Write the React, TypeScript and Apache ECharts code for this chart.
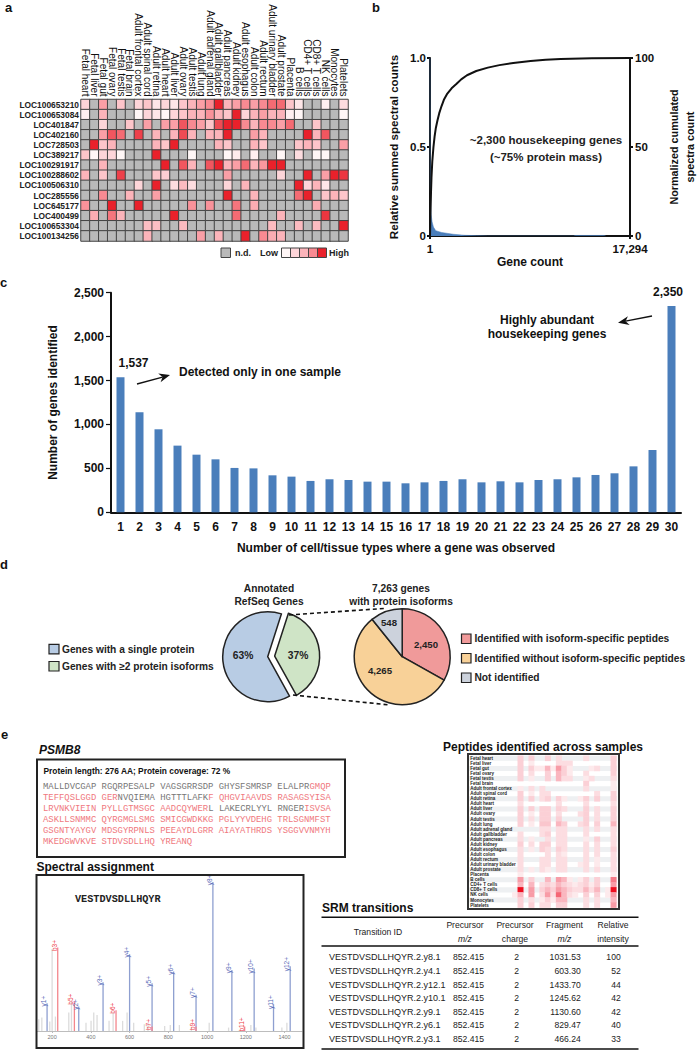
import React, { useEffect, useRef } from "react";
import * as echarts from "echarts";

const SANS = '"Liberation Sans", Arial, sans-serif';
const MONO = '"Liberation Mono", "DejaVu Sans Mono", monospace';

// ---------- panel a
const samples = ["Fetal heart","Fetal liver","Fetal gut","Fetal ovary","Fetal testis","Fetal brain","Adult frontal cortex","Adult spinal cord","Adult retina","Adult heart","Adult liver","Adult ovary","Adult testis","Adult lung","Adult adrenal gland","Adult gallbladder","Adult pancreas","Adult kidney","Adult esophagus","Adult colon","Adult rectum","Adult urinary bladder","Adult prostate","Placenta","B cells","CD4+ T cells","CD8+ T cells","NK cells","Monocytes","Platelets"];
const genes = ["LOC100653210","LOC100653084","LOC401847","LOC402160","LOC728503","LOC389217","LOC100291917","LOC100288602","LOC100506310","LOC285556","LOC645177","LOC400499","LOC100653304","LOC100134256"];
const geneLevels = [
  [2,0,3.5,0,2.5,0,2,2.5,1.5,2,1.5,2.5,3,3.5,4,5,3,3.5,4,3.5,4,4.3,4.3,2.5,1.5,0,0,1.2,0,1.8],
  [1.2,0,3,0,0,0,1,2,1.5,1,2,2.5,3,3,3.8,3,2.5,5,2,3,3.5,3,3,1.2,1,0,0,0,0,1],
  [0,0,2,0,0,2.5,0,3.5,0,3.5,3.5,4.5,4,3.5,2.5,4.6,5,5,4,3,4,4,3.5,4.3,0,0,2.5,0,0,0],
  [0,0,3.5,4.5,4.3,0,4.7,0,3,0,3,4.6,3,0,3,3,5,0,0,3.5,3,0,0,0,0,5,3,4.5,0,0],
  [0,5,2.5,3,0,0,0,0,3,2.5,5,0,0,0,0,3,2.5,0,0,3,2.5,0,0,0,2.5,3,2.5,0,0,3.5],
  [2.5,1,2,2,1,0,0,0,5,0,0,0,1,0,0,0,1,1.3,0,1.2,0,0,1,0,1.8,0,1,1,0,0],
  [0,0,3,0,0,0,0,0,0,5,0,4.5,3,0,4.5,5,3,3.5,4.3,3,3.7,5,5,0,0,0,0,0,0,0],
  [3,0,2.5,0,4.7,0,0,0,2.5,2.2,0,0,0,0,0,0,3.5,0,0,0,0,0,2,0,0,5,0,3.5,5,4.8],
  [0,0,0,0,0,0,2,0,5,0,1.8,2.8,1.8,0,0,0,2,0,3,0,0,0,0,0,5,2,3,1.5,0,0],
  [0,0,4,0,0,3,0,0,3.5,0,0,0,0,0,0,0,5,0,0,3,0,0,0,0,4.3,5,0,2.5,3,2.5],
  [3.8,0,0,5,0,0,5,0,0,0,0,0,3.8,0,3.8,0,0,4.2,0,3.2,0,0,0,0,0,0,3.2,0,0,0],
  [0,3.2,0,4.2,3,0,0,0,0,0,5,0,0,0,0,0,0,4.3,0,0,0,0,3,0,0,0,0,4.8,0,0],
  [0,0,0,0,0,0,0,2.7,2.7,0,0,2.8,0,0,0,0,0,0,0,0,0,2.8,0,0,2.8,0,2.8,0,0,5],
  [0,0,0,0,0,0,0,3,0,0,0,0,0,3.5,0,3,0,0,5,0,4,3.2,3,0,0,0,0,0,0,0],
];
const heatStops = ["#fff6f6", "#fdd5d9", "#fcb4ba", "#f88a92", "#e9212b"];
const legendLevels = [1, 2, 3, 4, 5];

// ---------- panel b
const cumulGene = [1,25,50,90,130,200,300,400,500,650,800,1000,1200,1500,1870,2300,2700,3200,4000,5000,6000,7200,8700,10000,11300,14000,17294];
const cumulPct = [0,8,15,25,33,42,50,56,60.5,65,69,73,76.5,80,83,85.5,88,90.3,92.7,94.6,96,97.2,98.3,99,99.5,99.9,100];
const relGene = [1,8,30,60,100,180,300,500,1000,2000,3000,4000,5000,12400,12600,15000,15200];
const relVal = [1,0.6,0.3,0.17,0.12,0.08,0.05,0.03,0.02,0.01,0.004,0.002,0,0,0.003,0.003,0];

// ---------- panel c
const cellCounts = Array.from({ length: 30 }, (_, i) => String(i + 1));
const geneCounts = [1537,1138,945,759,656,603,505,500,421,406,357,376,368,349,349,330,341,357,376,341,353,341,368,376,398,425,444,523,709,2350];

// ---------- panel d
const refseqNames = ["Genes with a single protein", "Genes with \u22652 protein isoforms"];
const refseqValues = [63, 37];
const isoformNames = ["Identified with isoform-specific peptides", "Identified without isoform-specific peptides", "Not identified"];
const isoformLabels = ["2,450", "4,265", "548"];
// slice shares (%) as drawn in the picture
const isoformShares = [33.1, 56.1, 10.8];

// ---------- panel e
const seqLines = [
  [["MALLDVCGAP RGQRPESALP VAGSGRRSDP GHYSFSMRSP ELALPR", 0], ["GMQP", 1]],
  [["TEFFQSLGGD GER", 1], ["NVQIEMA HGTTTLAFK", 0], ["F QHGVIAAVDS RASAGSYISA", 1]],
  [["LRVNKVIEIN PYLLGTMSGC AADCQYWER", 1], ["L LAKECRLYYL RNGER", 0], ["ISVSA", 1]],
  [["ASKLLSNMMC QYRGMGLSMG SMICGWDKKG PGLYYVDEHG TRLSGNMFST", 1]],
  [["GSGNTYAYGV MDSGYRPNLS PEEAYDLGRR AIAYATHRDS YSGGVVNMYH", 1]],
  [["MKEDGWVKVE STDVSDLLHQ YREANQ", 1]],
] as [string, number][][];

const yIons: [string, number, number][] = [["y1+",174,18.7],["y2+",337.5,16.5],["y3+",463,32.7],["y4+",600,51.5],["y5+",716,32],["y6+",827.5,40],["y7+",943,24.4],["y8+",1030,100],["y9+",1128,41],["y10+",1243,42],["y11+",1343,18],["y12+",1429,43.5]];
const bIons: [string, number, number][] = [["b3+",229,56],["b5+",315,20],["b6+",530,14],["b7+",716,3],["b9+",943,3],["b11+",1194,3]];
const otherPeaks = [[131,7.9],[147,9],[188,6.3],[200,55],[217,9.7],[286,12.4],[300,20],[375,5.6],[401,6.8],[415,12.4],[432,10.8],[494,6.8],[515,12.4],[564,6.8],[587,12.4],[621,5.6],[676,4.5],[695,5.6],[781,3.4],[810,4],[857,4],[919,2.3],[1011,5.6],[1111,2.3],[1226,4],[1252,2.3],[1386,2.3],[1412,5.6]];
const mzTicks = [200,400,600,800,1000,1200,1400];

const peptideCols = Array.from({ length: 19 }, (_, i) => String(i));
const peptideRows: [number, number][][] = [
  [[1,2],[3,2],[6,2],[8,1.5],[13,1.5],[18,2]],
  [[1,2],[3,1],[8,1.5],[9,1.5],[10,1.5],[18,2]],
  [[1,2],[3,2],[4,1],[5,1],[6,2.5],[7,1],[8,3],[9,2],[10,1],[14,1],[15,1.5],[18,2]],
  [[1,2],[3,1.5],[6,2],[8,2.5],[9,2],[10,1],[13,1.5],[18,2]],
  [[1,2],[3,1],[6,2],[8,2.5],[9,1.5],[10,1.5],[13,1],[14,1.5],[18,1.5]],
  [[13,2],[18,1]],
  [[1,1],[3,1.5],[5,1.5],[13,1.5],[18,1]],
  [[1,2],[3,1],[5,1.5],[6,1.5],[15,1.5],[18,2]],
  [[1,2],[3,2],[5,1.5],[6,2],[8,2],[9,1],[12,1],[13,2],[15,2],[18,2]],
  [[1,1.5],[8,1.5],[13,1.5],[18,1.5]],
  [[1,2],[3,2],[5,2],[6,2],[8,2],[9,1.5],[13,2],[15,1.5],[18,2]],
  [[1,2],[3,1],[5,2],[6,2],[8,1.5],[12,1.5],[13,2],[15,1.5],[18,2]],
  [[1,2],[3,1.5],[5,2],[6,2],[8,2],[13,2],[15,1.5],[18,2]],
  [[1,2],[3,1],[5,2.2],[6,2.2],[8,2.5],[9,2],[12,1.5],[13,2],[15,2],[18,2.5]],
  [[5,1.5],[6,1.5],[8,1.5],[9,1.5],[13,1.5],[15,1.5],[18,1.5]],
  [[1,1.5],[5,1.5],[6,2],[8,1.5],[9,1.5],[13,1.5],[18,1.5]],
  [[1,1.5],[3,1],[6,1.5],[8,1.5],[9,1.5],[13,1],[15,2],[18,1.5]],
  [[1,2],[3,1.5],[5,2],[6,2],[8,1.5],[9,1.5],[13,1.5],[15,1.5],[18,1.5]],
  [[1,1.5],[3,1],[5,2],[6,1.5],[8,2],[9,1.5],[13,1.5],[15,1.5],[18,2]],
  [[1,1.5],[6,1.5],[8,1.5],[9,1],[13,1.5],[15,1.5],[18,1.5]],
  [[1,1.5],[5,1.5],[6,1.5],[8,1.5],[9,1.5],[13,1.5],[15,1],[18,1.5]],
  [[1,1.5],[5,1.5],[6,1.5],[8,1.5],[9,1.5],[12,1],[13,1.5],[15,1],[18,1.5]],
  [[1,1.5],[3,1],[5,1.5],[6,1],[8,1.5],[9,1.5],[13,1.5],[15,1.5],[18,1.5]],
  [[1,1],[18,1]],
  [[1,3],[3,2],[6,2.5],[8,3],[9,2.5],[10,1],[12,1],[13,2],[15,2],[18,3.5]],
  [[1,2.5],[3,2.5],[5,1.5],[6,2],[7,1.5],[8,2.5],[9,2],[10,1.5],[11,1],[12,1.5],[13,2],[14,1],[15,2],[18,3]],
  [[1,5],[3,3],[5,2],[6,2.5],[7,2],[8,3],[9,2.5],[10,2],[11,1.5],[12,1.5],[13,2.5],[14,1.5],[15,2.5],[17,1],[18,5]],
  [[0,1],[1,2.5],[3,3],[5,1.5],[6,3],[7,1.5],[8,3.8],[9,2.5],[10,1.5],[11,1],[13,2],[15,2],[17,1],[18,3]],
  [[1,2],[3,1.5],[5,1],[6,2],[7,1],[8,2.5],[9,2.5],[13,1.5],[15,1.5],[18,2.5]],
  [[1,2],[3,2],[5,1.5],[6,1.5],[8,2],[9,2],[13,1.5],[15,1.5],[18,3]],
];
const peptideStops = ["#fdeaec", "#fbd0d6", "#f89ca7", "#f45868", "#ee0f20"];

const srmHeaders = ["Transition ID", "Precursor", "m/z", "Precursor", "charge", "Fragment", "m/z", "Relative", "intensity"];
const srmIds = ["VESTDVSDLLHQYR.2.y8.1","VESTDVSDLLHQYR.2.y4.1","VESTDVSDLLHQYR.2.y12.1","VESTDVSDLLHQYR.2.y10.1","VESTDVSDLLHQYR.2.y9.1","VESTDVSDLLHQYR.2.y6.1","VESTDVSDLLHQYR.2.y3.1"];
const srmPrecursor = ["852.415","852.415","852.415","852.415","852.415","852.415","852.415"];
const srmCharge = ["2","2","2","2","2","2","2"];
const srmFragment = ["1031.53","603.30","1433.70","1245.62","1130.60","829.47","466.24"];
const srmIntensity = ["100","52","44","42","42","40","33"];

const lerpLevel = (lv: number, stops: string[]) =>
  echarts.color.lerp((lv - 1) / (stops.length - 1), stops);

function txt(x: number, y: number, text: string, size: number, o: any = {}) {
  return {
    type: "text", x, y, z: 20, silent: true,
    style: {
      text,
      fill: o.fill || "#111",
      font: `${o.italic ? "italic " : ""}${o.bold === false ? "" : "bold "}${size}px ${o.family || SANS}`,
      textAlign: o.align || "left",
      textVerticalAlign: "middle",
      align: o.align || "left",
      verticalAlign: "middle",
    },
  };
}
function rect(x: number, y: number, w: number, h: number, fill: string, stroke = "#333", lineWidth = 1, z = 20) {
  return { type: "rect", z, silent: true, shape: { x, y, width: w, height: h }, style: { fill, stroke, lineWidth } };
}
function seg(x1: number, y1: number, x2: number, y2: number, lineWidth = 1.5, dash?: number[]) {
  return { type: "line", z: 20, silent: true, shape: { x1, y1, x2, y2 }, style: { stroke: "#111", lineWidth, lineDash: dash } };
}
function arrow(x1: number, y1: number, x2: number, y2: number) {
  const a = Math.atan2(y2 - y1, x2 - x1);
  const L = 11, W = 4.5;
  const bx = x2 - L * Math.cos(a), by = y2 - L * Math.sin(a);
  const ix = x2 - 0.7 * L * Math.cos(a), iy = y2 - 0.7 * L * Math.sin(a);
  const nx = -Math.sin(a), ny = Math.cos(a);
  return [
    seg(x1, y1, ix, iy, 1.3),
    { type: "polygon", z: 20, silent: true, shape: { points: [[x2, y2], [bx + nx * W, by + ny * W], [ix, iy], [bx - nx * W, by - ny * W]] }, style: { fill: "#111" } },
  ];
}

function buildGraphic() {
  const els: any[] = [];
  const dk = { fill: "#222" };
  const dkC = { fill: "#222", align: "center" };
  // panel letters
  els.push(txt(5, 7, "a", 13), txt(372, 7, "b", 13), txt(0, 282, "c", 13), txt(0, 564, "d", 13), txt(1, 734, "e", 13));
  // a legend
  els.push(rect(221, 248, 9.5, 9.5, "#b9b9b9", "#444", 1));
  els.push(txt(235, 253, "n.d.", 9, dk), txt(260, 253, "Low", 9, dk), txt(329, 253, "High", 9, dk));
  legendLevels.forEach((l, i) => els.push(rect(281.5 + i * 9, 248, 9, 9.5, lerpLevel(l, heatStops), "#444", 1)));
  // b note
  els.push(txt(546, 140, "~2,300 housekeeping genes", 11.5, dkC), txt(546, 157, "(~75% protein mass)", 11.5, dkC));
  // c notes
  els.push(txt(133.5, 363, "1,537", 12, { align: "center" }), txt(668, 292, "2,350", 12, { align: "center" }));
  els.push(txt(179, 372, "Detected only in one sample", 12), txt(547, 320, "Highly abundant", 12, { align: "center" }), txt(547, 334, "housekeeping genes", 12, { align: "center" }));
  els.push(...arrow(137, 384, 170, 375), ...arrow(652, 316, 618, 322.7));
  // d
  els.push(txt(269, 588.7, "Annotated", 10.2, dkC), txt(269, 601, "RefSeq Genes", 10.2, dkC));
  els.push(txt(401, 588.7, "7,263 genes", 10.2, dkC), txt(401, 601, "with protein isoforms", 10.2, dkC));
  els.push(seg(289, 615, 386, 608.3, 1.6, [4, 3]), seg(293, 695, 390, 705, 1.6, [4, 3]));
  els.push(txt(243, 655.7, "63%", 10.3, dkC), txt(298, 655.7, "37%", 10.3, dkC));
  els.push(txt(389, 622.7, isoformLabels[2], 9.6, dkC), txt(426, 644.3, isoformLabels[0], 9.6, dkC), txt(380, 670.7, isoformLabels[1], 9.6, dkC));
  els.push(rect(49, 644.3, 10, 9.5, "#b8cce4", "#222", 1.2), txt(62, 649, refseqNames[0], 10.2, dk));
  els.push(rect(49, 661.5, 10, 9.5, "#cfe4c6", "#222", 1.2), txt(62, 666.3, refseqNames[1], 10.2, dk));
  els.push(rect(461.5, 634, 9.5, 9.5, "#f09a9a", "#222", 1.2), txt(474.5, 638.3, isoformNames[0], 10.2, dk));
  els.push(rect(461.5, 653.5, 9.5, 9.5, "#f8d198", "#222", 1.2), txt(474.5, 658.3, isoformNames[1], 10.2, dk));
  els.push(rect(461.5, 673, 9.5, 9.5, "#ccd2dc", "#222", 1.2), txt(474.5, 677.7, isoformNames[2], 10.2, dk));
  // e : protein box
  els.push(txt(39, 750, "PSMB8", 12, { italic: true }));
  els.push(rect(37, 759.5, 308, 97.5, "none", "#222", 2));
  els.push(txt(43.5, 771, "Protein length: 276 AA; Protein coverage: 72 %", 8.4));
  const cw = 5.33;
  seqLines.forEach((parts, row) => {
    let col = 0;
    parts.forEach(([s, red]) => {
      els.push(txt(43 + col * cw, 787 + row * 11, s, 8.88, { bold: false, family: MONO, fill: red ? "#f0787e" : "#777" }));
      col += s.length;
    });
  });
  // spectrum
  els.push(txt(36.5, 867, "Spectral assignment", 12));
  els.push(rect(36.5, 875, 267, 173, "none", "#222", 2));
  els.push(txt(75, 899, "VESTDVSDLLHQYR", 10.2, { family: MONO, fill: "#222" }));
  // peptides
  els.push(txt(543, 747, "Peptides identified across samples", 12, { align: "center" }));
  for (let i = 0; i < samples.length; i += 2) {
    els.push({ type: "rect", z: 0, silent: true, shape: { x: 469, y: 755.8 + i * 5.06, width: 148, height: 5.06 }, style: { fill: "#eef0f2" } });
  }
  els.push(rect(468, 754, 151, 155, "none", "#333", 2));
  // SRM
  els.push(txt(322, 908, "SRM transitions", 12));
  els.push(seg(321.5, 917.3, 638.5, 917.3, 1.4), seg(321.5, 946, 638.5, 946, 1.4), seg(321.5, 1049, 638.5, 1049, 1.4));
  const hOpt = { align: "center", bold: false, fill: "#222" };
  const hItalic = { ...hOpt, italic: true };
  const F = 8.6;
  els.push(
    txt(378, 932, srmHeaders[0], F, hOpt),
    txt(465, 925, srmHeaders[1], F, hOpt), txt(465, 939, srmHeaders[2], F, hItalic),
    txt(515, 925, srmHeaders[3], F, hOpt), txt(515, 939, srmHeaders[4], F, hOpt),
    txt(564.5, 925, srmHeaders[5], F, hOpt), txt(564.5, 939, srmHeaders[6], F, hItalic),
    txt(613, 925, srmHeaders[7], F, hOpt), txt(613, 939, srmHeaders[8], F, hOpt),
  );
  srmIds.forEach((id, i) => {
    const y = 957.3 + i * 13.63;
    els.push(txt(329, y, id, 9, { bold: false, fill: "#222" }));
    els.push(txt(468.5, y, srmPrecursor[i], F, hOpt));
    els.push(txt(516.7, y, srmCharge[i], F, hOpt));
    els.push(txt(580.7, y, srmFragment[i], F, { bold: false, fill: "#222", align: "right" }));
    els.push(txt(620.7, y, srmIntensity[i], F, { bold: false, fill: "#222", align: "right" }));
  });
  return els;
}

function buildOption() {
  const heatData: any[] = [];
  geneLevels.forEach((row, y) => row.forEach((v, x) => heatData.push([x, y, v])));
  const pepData: any[] = [];
  peptideRows.forEach((row, y) => row.forEach(([x, v]) => pepData.push([x, y, v])));
  const black = { lineStyle: { color: "#111", width: 2 } };
  const boldLabel = (size: number) => ({ color: "#111", fontWeight: "bold", fontSize: size, fontFamily: SANS });
  const commas = (v: number) => v.toLocaleString("en-US");
  const ionBars = (list: [string, number, number][], color: string, labelColor: string) => ({
    type: "bar", xAxisIndex: 3, yAxisIndex: 4, barWidth: 1.3, barGap: "-100%", z: 4,
    itemStyle: { color },
    label: { show: true, position: "top", rotate: 90, distance: 2, formatter: "{b}", fontSize: 6.5, color: labelColor, fontFamily: SANS },
    data: list.map(([n, mz, v]) => ({ name: n, value: [mz, v] })),
  });
  const pieBase = {
    type: "pie", silent: true, z: 5, label: { show: false }, labelLine: { show: false },
    itemStyle: { borderColor: "#222", borderWidth: 1.5 },
    emphasis: { disabled: true },
  };

  return {
    animation: false,
    backgroundColor: "#fff",
    visualMap: [
      { type: "continuous", show: false, seriesIndex: 0, dimension: 2, min: 0, max: 5, inRange: { color: ["#b9b9b9", ...heatStops] } },
      { type: "continuous", show: false, seriesIndex: 7, dimension: 2, min: 1, max: 5, inRange: { color: peptideStops } },
    ],
    grid: [
      { left: 81, top: 99.5, width: 267, height: 141.5 },
      { left: 430, top: 58, width: 215, height: 178 },
      { left: 111, top: 292.7, width: 570, height: 219.6 },
      { left: 37, top: 882, width: 265, height: 149 },
      { left: 512.3, top: 755.8, width: 104, height: 151.8 },
    ],
    xAxis: [
      { gridIndex: 0, type: "category", position: "top", data: samples, axisLine: { show: false }, axisTick: { show: false },
        axisLabel: { interval: 0, rotate: 90, margin: 3, fontSize: 10, color: "#111", fontFamily: SANS } },
      { gridIndex: 1, type: "value", min: 1, max: 17294, splitLine: { show: false },
        axisLine: { onZero: false, ...black },
        axisTick: { show: true, length: 3, customValues: [1, 17294], lineStyle: { color: "#111", width: 2 } },
        axisLabel: { ...boldLabel(11.5), margin: 7, customValues: [1, 17294], formatter: (v: number) => commas(v), hideOverlap: false, showMinLabel: true, showMaxLabel: true },
        name: "Gene count", nameLocation: "middle", nameGap: 20, nameTextStyle: boldLabel(12) },
      { gridIndex: 2, type: "category", data: cellCounts, axisLine: black,
        axisTick: { length: 5, lineStyle: { color: "#111", width: 1.2 } },
        axisLabel: { ...boldLabel(12), interval: 0, margin: 9 },
        name: "Number of cell/tissue types where a gene was observed", nameLocation: "middle", nameGap: 30, nameTextStyle: boldLabel(12) },
      { gridIndex: 3, type: "value", min: 122, max: 1490, splitLine: { show: false },
        axisLine: { onZero: false, lineStyle: { color: "#bdbdbd", width: 1 } },
        axisTick: { length: 2, customValues: mzTicks, lineStyle: { color: "#bbb" } },
        axisLabel: { customValues: mzTicks, fontSize: 5.5, color: "#777", margin: 3, fontFamily: SANS, formatter: (v: number) => String(v) } },
      { gridIndex: 4, type: "category", data: peptideCols, show: false },
    ],
    yAxis: [
      { gridIndex: 0, type: "category", inverse: true, data: genes, axisLine: { show: false }, axisTick: { show: false },
        axisLabel: { ...boldLabel(8.4), interval: 0, margin: 2, color: "#222" } },
      { gridIndex: 1, type: "value", min: 0, max: 1, interval: 0.5, splitLine: { show: false }, axisLine: { show: true, ...black },
        axisTick: { show: true, length: 3, lineStyle: { color: "#111", width: 2 } },
        axisLabel: { ...boldLabel(11.5), margin: 4, formatter: (v: number) => (v === 0 ? "0" : v.toFixed(1)) },
        name: "Relative summed spectral counts", nameLocation: "middle", nameGap: 31, nameRotate: 90, nameTextStyle: boldLabel(11.6) },
      { gridIndex: 1, type: "value", position: "right", min: 0, max: 100, interval: 50, splitLine: { show: false }, axisLine: { show: true, ...black },
        axisTick: { show: true, length: 3, lineStyle: { color: "#111", width: 2 } },
        axisLabel: { ...boldLabel(11.5), margin: 5 },
        name: "Normalized cumulated\nspectra count", nameLocation: "middle", nameGap: 36, nameRotate: 90, nameTextStyle: { ...boldLabel(10.8), lineHeight: 16 } },
      { gridIndex: 2, type: "value", min: 0, max: 2500, interval: 500, splitLine: { show: false }, axisLine: { show: true, ...black },
        axisTick: { show: true, length: 5, lineStyle: { color: "#111", width: 1.2 } },
        axisLabel: { ...boldLabel(12), margin: 7, formatter: (v: number) => commas(v) },
        name: "Number of genes identified", nameLocation: "middle", nameGap: 52, nameRotate: 90, nameTextStyle: boldLabel(12) },
      { gridIndex: 3, type: "value", min: 0, max: 100, show: false },
      { gridIndex: 4, type: "category", inverse: true, data: samples, axisLine: { show: false }, axisTick: { show: false },
        axisLabel: { interval: 0, align: "left", margin: 42, fontSize: 4.5, fontWeight: "bold", color: "#222", fontFamily: SANS } },
    ],
    series: [
      { type: "heatmap", xAxisIndex: 0, yAxisIndex: 0, data: heatData, itemStyle: { borderColor: "#444", borderWidth: 1 } },
      { type: "line", xAxisIndex: 1, yAxisIndex: 1, showSymbol: false, data: relGene.map((g, i) => [g, relVal[i]]),
        lineStyle: { color: "#4a7ebb", width: 0.5 }, areaStyle: { color: "#4a7ebb", opacity: 1 }, z: 2 },
      { type: "line", xAxisIndex: 1, yAxisIndex: 2, showSymbol: false, smooth: false, data: cumulGene.map((g, i) => [g, cumulPct[i]]),
        lineStyle: { color: "#111", width: 2, join: "round" }, z: 3 },
      { type: "bar", xAxisIndex: 2, yAxisIndex: 3, data: geneCounts, barWidth: 8, itemStyle: { color: "#4a7ebb" } },
      { ...ionBars(otherPeaks.map(([m, v]) => ["", m, v]) as any, "#dcdcdc", "#999"), label: { show: false }, z: 3 },
      ionBars(yIons, "#8e9fd0", "#5a6cb8"),
      ionBars(bIons, "#f4868c", "#ee4048"),
      { type: "heatmap", xAxisIndex: 4, yAxisIndex: 5, data: pepData, itemStyle: { borderWidth: 0 } },
      { ...pieBase, center: [267.7, 656.7], radius: 45, startAngle: -61, clockwise: true, selectedMode: "single", selectedOffset: 7,
        data: refseqNames.map((n, i) => ({ name: n, value: refseqValues[i], selected: i === 1, itemStyle: { color: ["#b8cce4", "#cfe4c6"][i] } })) },
      { ...pieBase, center: [402.2, 656.7], radius: 48, startAngle: 90, clockwise: true,
        data: isoformNames.map((n, i) => ({ name: n, value: isoformShares[i], itemStyle: { color: ["#f09a9a", "#f8d198", "#ccd2dc"][i] } })) },
    ],
    graphic: { elements: buildGraphic() },
  };
}

export default function App() {
  const ref = useRef<HTMLDivElement>(null);
  useEffect(() => {
    document.body.style.margin = "0";
    const chart = echarts.init(ref.current!, undefined, { renderer: "svg" });
    chart.setOption(buildOption() as any);
    return () => chart.dispose();
  }, []);
  return <div ref={ref} style={{ width: 699, height: 1050, background: "#fff" }} />;
}
